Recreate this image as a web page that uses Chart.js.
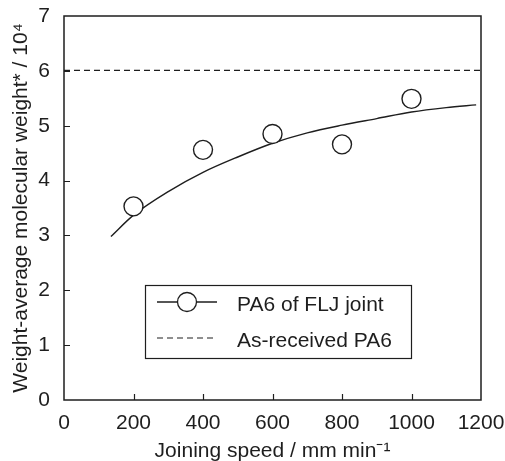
<!DOCTYPE html>
<html>
<head>
<meta charset="utf-8">
<script src="https://cdn.jsdelivr.net/npm/chart.js@4.4.1/dist/chart.umd.min.js"></script>
<style>
  html, body { margin: 0; padding: 0; background: #fff; }
  #wrap { width: 505px; height: 461px; }
</style>
</head>
<body>
<div id="wrap"><canvas id="chart" width="505" height="461"></canvas></div>
<script>
// measured points
const joiningSpeed = [200, 400, 600, 800, 1000];
const molWeight = [3.53, 4.56, 4.85, 4.66, 5.49];

// fitted curve
const fitSpeed = [135, 200, 300, 400, 500, 600, 700, 800, 900, 1000, 1100, 1186];
const fitWeight = [2.98, 3.37, 3.80, 4.15, 4.43, 4.68, 4.87, 5.01, 5.13, 5.25, 5.33, 5.38];

// as-received reference level
const refSpeed = [0, 1200];
const refWeight = [6.01, 6.01];

const xTicks = [0, 200, 400, 600, 800, 1000, 1200];
const yTicks = [0, 1, 2, 3, 4, 5, 6, 7];

const ink = '#1e1e1e';
const fontFamily = '"Liberation Sans", Arial, Helvetica, sans-serif';

const toXY = (xs, ys) => xs.map((x, i) => ({ x: x, y: ys[i] }));

// no automatic padding for overflowing labels, the plot box is fixed
function fixBox(s, size) {
    if (s.isHorizontal()) s.height = size; else s.width = size;
    s.paddingLeft = 0;
    s.paddingRight = 0;
    s.paddingTop = 0;
    s.paddingBottom = 0;
}

// frame, inward ticks and the boxed legend
const framePlugin = {
    id: 'frame',
    afterDraw(chart) {
        const ctx = chart.ctx;
        const a = chart.chartArea;
        const xs = chart.scales.x;
        const ys = chart.scales.y;
        ctx.save();
        ctx.strokeStyle = ink;
        ctx.lineWidth = 1.5;
        ctx.strokeRect(a.left, a.top, a.right - a.left, a.bottom - a.top);

        ctx.lineWidth = 1.2;
        ctx.beginPath();
        xTicks.slice(1, -1).forEach(v => {
            const px = Math.round(xs.getPixelForValue(v)) + 0.5;
            ctx.moveTo(px, a.bottom);
            ctx.lineTo(px, a.bottom - 6);
        });
        yTicks.slice(1, -1).forEach(v => {
            const py = Math.round(ys.getPixelForValue(v)) + 0.5;
            ctx.moveTo(a.left, py);
            ctx.lineTo(a.left + 6, py);
        });
        ctx.stroke();

        // legend box
        const bx = 145, by = 285, bw = 266, bh = 73;
        ctx.fillStyle = '#fff';
        ctx.fillRect(bx, by, bw, bh);
        ctx.lineWidth = 1.2;
        ctx.strokeRect(bx + 0.5, by + 0.5, bw, bh);

        const ds = chart.data.datasets;
        ctx.font = '21px ' + fontFamily;
        ctx.fillStyle = ink;
        ctx.textBaseline = 'alphabetic';

        // row 1: line with circle
        const r1 = 302;
        ctx.lineWidth = 1.3;
        ctx.beginPath();
        ctx.moveTo(157, r1);
        ctx.lineTo(217, r1);
        ctx.stroke();
        ctx.beginPath();
        ctx.arc(187, r1, 9.5, 0, Math.PI * 2);
        ctx.fillStyle = '#fff';
        ctx.fill();
        ctx.stroke();
        ctx.fillStyle = ink;
        ctx.fillText(ds[0].label, 237, 311);

        // row 2: dashed
        const r2 = 338;
        ctx.setLineDash([6, 4]);
        ctx.lineWidth = 1.2;
        ctx.beginPath();
        ctx.moveTo(157, r2);
        ctx.lineTo(217, r2);
        ctx.stroke();
        ctx.setLineDash([]);
        ctx.fillText(ds[2].label, 237, 347);
        ctx.restore();
    }
};

new Chart(document.getElementById('chart'), {
    type: 'scatter',
    data: {
        datasets: [
            {
                label: 'PA6 of FLJ joint',
                data: toXY(joiningSpeed, molWeight),
                showLine: false,
                pointStyle: 'circle',
                pointRadius: 9.5,
                pointBackgroundColor: '#fff',
                pointBorderColor: ink,
                pointBorderWidth: 1.4,
                order: 0
            },
            {
                label: 'fit',
                data: toXY(fitSpeed, fitWeight),
                showLine: true,
                borderColor: ink,
                borderWidth: 1.4,
                pointRadius: 0,
                cubicInterpolationMode: 'monotone',
                order: 2
            },
            {
                label: 'As-received PA6',
                data: toXY(refSpeed, refWeight),
                showLine: true,
                borderColor: ink,
                borderWidth: 1.2,
                borderDash: [6, 4],
                pointRadius: 0,
                order: 3
            }
        ]
    },
    options: {
        responsive: false,
        animation: false,
        layout: { padding: { left: 0, top: 16, right: 24, bottom: 0 } },
        plugins: {
            legend: { display: false },
            tooltip: { enabled: false }
        },
        scales: {
            x: {
                type: 'linear',
                min: 0,
                max: 1200,
                afterFit: s => fixBox(s, 61),
                afterBuildTicks: s => { s.ticks = xTicks.map(v => ({ value: v })); },
                grid: { display: false, drawTicks: false },
                border: { display: false },
                ticks: {
                    color: ink, padding: 11, maxRotation: 0,
                    font: { family: fontFamily, size: 21 },
                    callback: v => String(v)
                },
                title: {
                    display: true,
                    text: 'Joining speed / mm min\u207B\u00B9',
                    color: ink,
                    font: { family: fontFamily, size: 21 },
                    padding: { top: 0, bottom: -3 }
                }
            },
            y: {
                type: 'linear',
                min: 0,
                max: 7,
                afterFit: s => fixBox(s, 64),
                afterBuildTicks: s => { s.ticks = yTicks.map(v => ({ value: v })); },
                grid: { display: false, drawTicks: false },
                border: { display: false },
                ticks: {
                    color: ink, padding: 14,
                    font: { family: fontFamily, size: 21 },
                    callback: v => String(v)
                },
                title: {
                    display: true,
                    text: 'Weight-average molecular weight* / 10\u2074',
                    color: ink,
                    font: { family: fontFamily, size: 21 },
                    padding: { top: 9, bottom: 0 }
                }
            }
        }
    },
    plugins: [framePlugin]
});
</script>
</body>
</html>
